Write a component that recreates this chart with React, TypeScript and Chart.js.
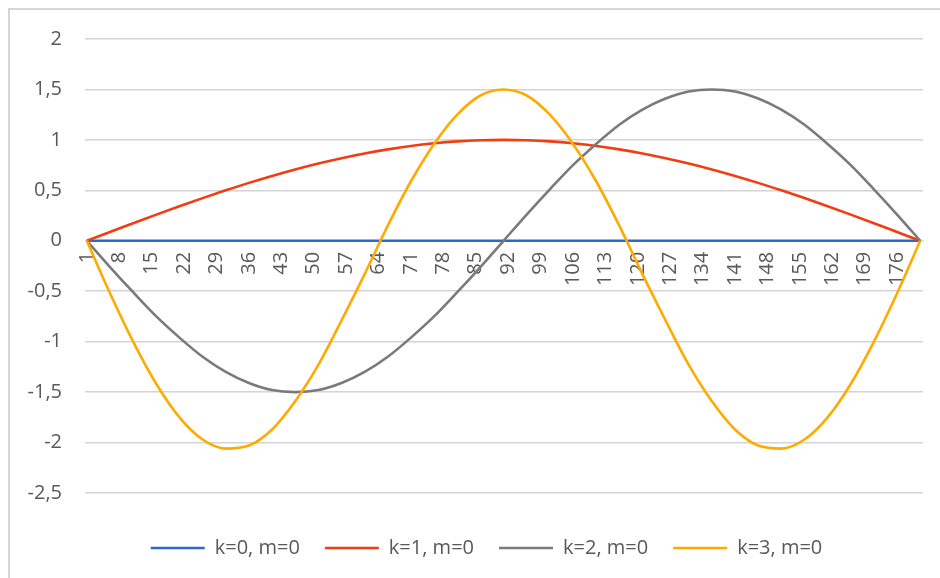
import React, { useEffect, useRef } from "react";
import { Chart, registerables } from "chart.js";

Chart.register(...registerables);

// Sampled angle index (category number 1..181)
const xValues = [
  1, 6, 11, 16, 21, 26, 31, 36, 41, 46, 51, 56, 61, 66, 71, 76, 81, 86, 91,
  96, 101, 106, 111, 116, 121, 126, 131, 136, 141, 146, 151, 156, 161, 166, 171, 176, 181,
];

const seriesK0 = [
  0, 0, 0, 0, 0, 0, 0, 0, 0, 0, 0, 0, 0, 0, 0, 0, 0, 0, 0,
  0, 0, 0, 0, 0, 0, 0, 0, 0, 0, 0, 0, 0, 0, 0, 0, 0, 0,
];

const seriesK1 = [
  0, 0.087, 0.174, 0.259, 0.342, 0.423, 0.5, 0.574, 0.643, 0.707, 0.766, 0.819, 0.866, 0.906, 0.94, 0.966, 0.985, 0.996, 1,
  0.996, 0.985, 0.966, 0.94, 0.906, 0.866, 0.819, 0.766, 0.707, 0.643, 0.574, 0.5, 0.423, 0.342, 0.259, 0.174, 0.087, 0,
];

const seriesK2 = [
  0, -0.26, -0.51, -0.75, -0.96, -1.15, -1.3, -1.41, -1.48, -1.5, -1.48, -1.41, -1.3, -1.15, -0.96, -0.75, -0.51, -0.26, 0,
  0.26, 0.51, 0.75, 0.96, 1.15, 1.3, 1.41, 1.48, 1.5, 1.48, 1.41, 1.3, 1.15, 0.96, 0.75, 0.51, 0.26, 0,
];

const seriesK3 = [
  0, -0.52, -1.0, -1.42, -1.75, -1.97, -2.06, -2.03, -1.87, -1.59, -1.23, -0.79, -0.33, 0.15, 0.59, 0.96, 1.25, 1.44, 1.5,
  1.44, 1.25, 0.96, 0.59, 0.15, -0.33, -0.79, -1.23, -1.59, -1.87, -2.03, -2.06, -1.97, -1.75, -1.42, -1.0, -0.52, 0,
];

const seriesNames = ["k=0, m=0", "k=1, m=0", "k=2, m=0", "k=3, m=0"];
const seriesColors = ["#2A6AD0", "#F23C12", "#7A7A7A", "#FFAA00"];

const xTickLabels = [
  1, 8, 15, 22, 29, 36, 43, 50, 57, 64, 71, 78, 85, 92, 99, 106, 113, 120, 127, 134, 141, 148, 155, 162, 169, 176,
];

const yMin = -2.5;
const yMax = 2;
const yStep = 0.5;

const FONT = "'Open Sans', sans-serif";
const TEXT = "#595959";

const legendShift = {
  id: "legendShift",
  afterLayout(chart: any) {
    const lg = chart.legend;
    if (lg) {
      lg.left += 15;
      lg.right += 15;
    }
  },
};

export default function App() {
  const canvasRef = useRef<HTMLCanvasElement | null>(null);

  useEffect(() => {
    if (!canvasRef.current) return;
    const allSeries = [seriesK0, seriesK1, seriesK2, seriesK3];
    const datasets = allSeries.map((vals, i) => ({
      label: seriesNames[i],
      data: vals.map((v, j) => ({ x: xValues[j], y: v })),
      borderColor: seriesColors[i],
      backgroundColor: seriesColors[i],
      borderWidth: 2.6,
      pointRadius: 0,
      fill: false,
      cubicInterpolationMode: "monotone" as const,
      order: 3 - i,
    }));

    const chart = new Chart(canvasRef.current, {
      type: "line",
      data: { datasets },
      plugins: [legendShift],
      options: {
        animation: false,
        responsive: false,
        layout: { padding: { left: 20, right: 17, top: 39, bottom: 10 } },
        scales: {
          x: {
            type: "linear",
            position: { y: 0 } as any,
            min: 0.6,
            max: 181.6,
            afterBuildTicks: (scale: any) => {
              scale.ticks = xTickLabels.map((v) => ({ value: v }));
            },
            grid: { display: false, drawTicks: false },
            border: { display: true, color: "#d9d9d9" },
            ticks: {
              autoSkip: false,
              minRotation: 90,
              maxRotation: 90,
              padding: 11,
              color: TEXT,
              font: { family: FONT, size: 20 },
              callback: (v: any) => String(v),
            },
          },
          xPad: {
            type: "linear",
            position: "bottom",
            display: true,
            grid: { display: false, drawTicks: false },
            border: { display: false },
            ticks: { display: false },
            afterFit: (scale: any) => {
              scale.height = 20;
            },
          },
          y: {
            type: "linear",
            min: yMin,
            max: yMax,
            ticks: {
              stepSize: yStep,
              padding: 23,
              color: TEXT,
              font: { family: FONT, size: 20 },
              callback: (v: any) => String(v).replace(".", ","),
            },
            grid: { color: "#d4d4d4", lineWidth: 1.6, drawTicks: false },
            border: { display: false },
            afterFit: (scale: any) => {
              scale.width = 65;
            },
          },
        },
        plugins: {
          legend: {
            position: "bottom",
            labels: {
              usePointStyle: true,
              pointStyle: "line",
              pointStyleWidth: 54,
              padding: 25,
              color: TEXT,
              font: { family: FONT, size: 20 },
              sort: (a: any, b: any) => a.datasetIndex - b.datasetIndex,
            },
          },
          tooltip: { enabled: false },
        },
      },
    });
    return () => chart.destroy();
  }, []);

  return (
    <div
      style={{
        position: "fixed",
        left: 0,
        top: 0,
        width: 940,
        height: 578,
        overflow: "hidden",
        background: "#ffffff",
      }}
    >
      <div
        style={{
          position: "absolute",
          left: 8,
          top: 8,
          width: 1000,
          height: 1000,
          border: "2px solid #d6d6d6",
          boxSizing: "border-box",
        }}
      />
      <canvas
        ref={canvasRef}
        width={940}
        height={578}
        style={{ position: "absolute", left: 0, top: 0, display: "block" }}
      />
    </div>
  );
}
